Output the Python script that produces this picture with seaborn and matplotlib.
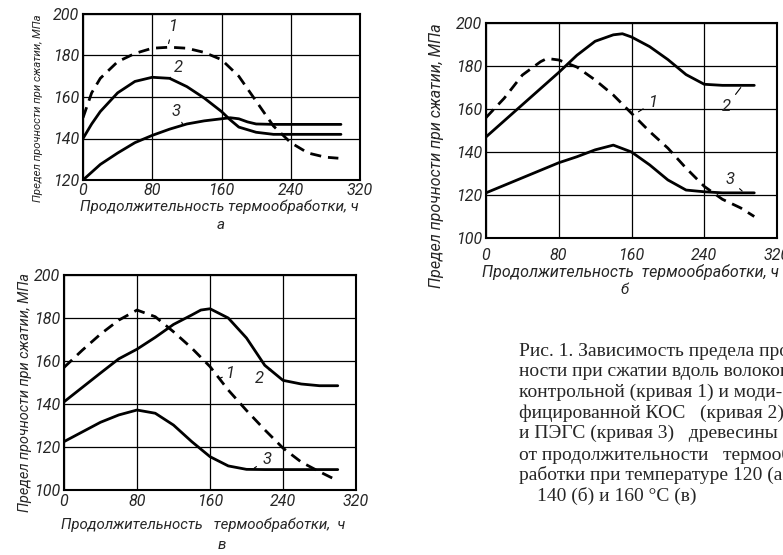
import pandas as pd
import seaborn as sns
import matplotlib.pyplot as plt

# --- panel а (120 °C) ---
a1_t = [0, 10, 20, 40, 60, 80, 100, 120, 140, 160, 180, 200, 220, 240, 260, 280, 295]
a1_s = [150, 162, 169, 177, 181, 183.5, 184, 183.5, 181.5, 178, 170, 158, 146, 138, 133, 131, 130.5]
a2_t = [0, 10, 20, 40, 60, 80, 100, 120, 140, 160, 170, 180, 200, 220, 240, 260, 280, 298]
a2_s = [140, 147, 153, 162, 167.5, 169.5, 169, 165, 159.5, 153, 149, 145.5, 143, 142, 142, 142, 142, 142]
a3_t = [0, 20, 40, 60, 80, 100, 120, 140, 160, 170, 180, 190, 200, 220, 240, 260, 280, 298]
a3_s = [120, 127.5, 133, 138, 141.5, 144.5, 147, 148.5, 149.5, 150, 149.5, 148, 147, 146.8, 146.8, 146.8, 146.8, 146.8]

# --- panel б (140 °C) ---
b1_t = [0, 20, 40, 60, 67, 80, 100, 120, 140, 160, 180, 200, 220, 240, 260, 280, 295]
b1_s = [156, 165, 175.8, 182, 183.5, 182.8, 179.5, 173.5, 166.5, 158, 149.5, 141.8, 132.5, 124, 118, 114, 110]
b2_t = [0, 20, 40, 60, 80, 100, 120, 140, 150, 160, 180, 200, 220, 240, 260, 280, 295]
b2_s = [147, 154.5, 162, 169.5, 177, 185, 191.5, 194.5, 195, 193.5, 189, 183, 176, 171.5, 171, 171, 171]
b3_t = [0, 20, 40, 60, 80, 100, 120, 140, 160, 180, 200, 220, 240, 260, 280, 295]
b3_s = [121, 124.5, 128, 131.5, 135, 137.8, 141, 143.2, 140, 134, 127, 122.3, 121.5, 121, 121, 121]

# --- panel в (160 °C) ---
c1_t = [0, 20, 40, 60, 80, 100, 120, 140, 160, 180, 200, 220, 240, 260, 280, 300]
c1_s = [157, 165, 172.5, 179, 183.7, 180.6, 173.6, 166, 157.4, 146.5, 137, 128, 119.5, 113, 108.5, 104.3]
c2_t = [0, 20, 40, 60, 80, 100, 120, 140, 150, 160, 180, 200, 220, 240, 260, 280, 300]
c2_s = [141, 147.7, 154.4, 161, 165.5, 171, 177, 181.4, 183.7, 184.3, 180, 170.7, 158, 151, 149.3, 148.5, 148.5]
c3_t = [0, 20, 40, 60, 80, 100, 120, 140, 160, 180, 200, 220, 240, 260, 280, 300]
c3_s = [122.5, 127, 131.5, 134.9, 137.2, 135.7, 130.2, 122.5, 115.5, 111.2, 109.6, 109.5, 109.5, 109.5, 109.5, 109.5]

x_ticks = [0, 80, 160, 240, 320]
ylabel = 'Предел прочности при сжатии, МПа'
xlabel = 'Продолжительность термообработки, ч'

caption = [
    'Рис. 1. Зависимость предела проч-',
    'ности при сжатии вдоль волокон',
    'контрольной (кривая 1) и моди-',
    'фицированной КОС   (кривая 2)',
    'и ПЭГС (кривая 3)   древесины',
    'от продолжительности   термооб-',
    'работки при температуре 120 (а),',
    '140 (б) и 160 °С (в)',
]

sns.set_theme(style='white')
plt.rcParams['font.family'] = ['Roboto', 'DejaVu Sans']
plt.rcParams['font.style'] = 'italic'

W, H = 783, 555
fig = plt.figure(figsize=(W / 100, H / 100), dpi=100)
renderer = fig.canvas.get_renderer()


def px_axes(l, t, r, b):
    return fig.add_axes([l / W, 1 - b / H, (r - l) / W, (b - t) / H])


def px_text(x, y, s, **kw):
    return fig.text(x / W, 1 - y / H, s, **kw)


def fit_text(x, y, s, length, rotation=0, **kw):
    # size the text so that it covers the same length as in the scan
    t = px_text(x, y, s, rotation=rotation, fontsize=10, ha='center', va='center', **kw)
    bb = t.get_window_extent(renderer)
    cur = bb.height if rotation else bb.width
    t.set_fontsize(10 * length / cur)
    return t


def draw_panel(ax, curves, ylim, yticks, xpad):
    rows = []
    for name, t, s in curves:
        for ti, si in zip(t, s):
            rows.append({'t': ti, 's': si, 'curve': name})
    df = pd.DataFrame(rows)
    sns.lineplot(data=df, x='t', y='s', hue='curve', style='curve',
                 palette={'1': 'black', '2': 'black', '3': 'black'},
                 dashes={'1': (4, 2.5), '2': '', '3': ''},
                 estimator=None, sort=False, linewidth=2.0, legend=False, ax=ax)
    ax.set_xlim(0, 320)
    ax.set_ylim(*ylim)
    ax.set_xticks(x_ticks)
    ax.set_yticks(yticks)
    ax.grid(True, color='black', linewidth=0.9)
    ax.tick_params(length=0, labelsize=11.5, pad=xpad)
    ax.tick_params(axis='y', pad=3)
    ax.set_xlabel('')
    ax.set_ylabel('')
    for sp in ax.spines.values():
        sp.set_visible(True)
        sp.set_color('black')
        sp.set_linewidth(1.5)


lbl = dict(fontsize=12, ha='center', va='center')
lead = dict(arrowstyle='-', lw=0.8, color='black')

# panel а
ax_a = px_axes(83, 14, 360, 180)
draw_panel(ax_a, [('1', a1_t, a1_s), ('2', a2_t, a2_s), ('3', a3_t, a3_s)],
           (120, 200), [120, 140, 160, 180, 200], 2)
ax_a.annotate('1', xy=(98, 184.5), xytext=(104, 194), arrowprops=lead, **lbl)
ax_a.annotate('2', xy=(100, 169), xytext=(110, 174), arrowprops=lead, **lbl)
ax_a.annotate('3', xy=(115, 147), xytext=(108, 153), arrowprops=lead, **lbl)
fit_text(38, 108, ylabel, 188, rotation=90)
fit_text(219, 207, xlabel, 278)
px_text(221, 225, 'а', fontsize=11, ha='center', va='center')

# panel б
ax_b = px_axes(486, 23, 777, 238)
draw_panel(ax_b, [('1', b1_t, b1_s), ('2', b2_t, b2_s), ('3', b3_t, b3_s)],
           (100, 200), [100, 120, 140, 160, 180, 200], 7)
ax_b.annotate('1', xy=(165, 158), xytext=(184, 163), arrowprops=lead, **lbl)
ax_b.annotate('2', xy=(282, 171), xytext=(264, 161), arrowprops=lead, **lbl)
ax_b.annotate('3', xy=(284, 121), xytext=(268, 127), arrowprops=lead, **lbl)
fit_text(437, 156, ylabel, 264, rotation=90)
fit_text(631, 272, 'Продолжительность  термообработки, ч', 296)
px_text(625, 290, 'б', fontsize=11, ha='center', va='center')

# panel в
ax_c = px_axes(64, 275, 356, 490)
draw_panel(ax_c, [('1', c1_t, c1_s), ('2', c2_t, c2_s), ('3', c3_t, c3_s)],
           (100, 200), [100, 120, 140, 160, 180, 200], 3)
ax_c.annotate('1', xy=(171, 152), xytext=(182, 154), arrowprops=lead, **lbl)
ax_c.annotate('2', xy=(229, 157), xytext=(214, 152), arrowprops=lead, **lbl)
ax_c.annotate('3', xy=(206, 109.5), xytext=(222, 114), arrowprops=lead, **lbl)
fit_text(25, 392, ylabel, 238, rotation=90)
fit_text(203, 525, 'Продолжительность   термообработки,  ч', 285)
px_text(222, 545, 'в', fontsize=11, ha='center', va='center')

# caption
for i, line in enumerate(caption):
    x0 = 537 if i == len(caption) - 1 else 519
    px_text(x0, 351 + i * 20.7, line, fontsize=14, family=['Liberation Serif', 'DejaVu Serif'],
            style='normal', ha='left', va='center')

fig.savefig('out.png', dpi=100)
